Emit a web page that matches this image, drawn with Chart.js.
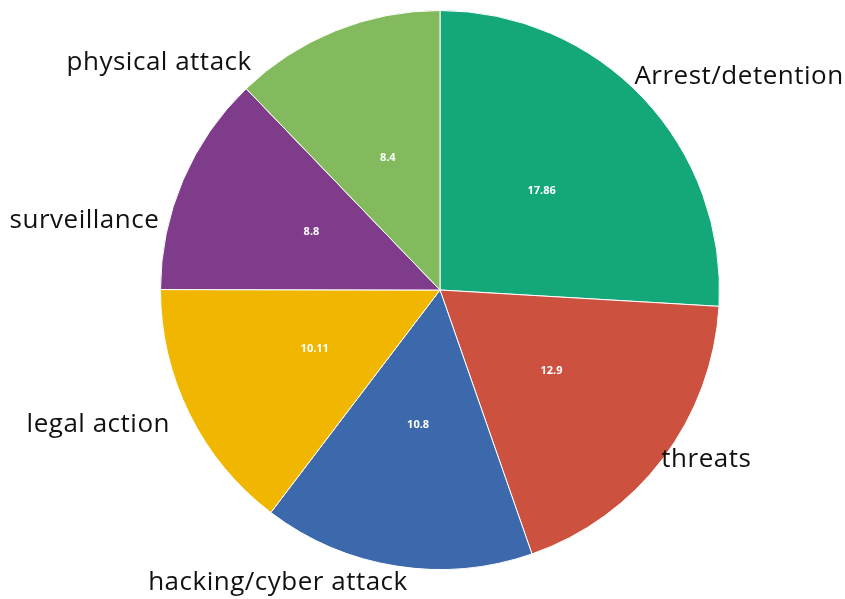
<!DOCTYPE html>
<html>
<head>
<meta charset="utf-8">
<script src="https://cdn.jsdelivr.net/npm/chart.js@4"></script>
<style>
  html, body { margin: 0; padding: 0; background: #fff; }
  #wrap { width: 845px; height: 599px; }
</style>
</head>
<body>
<div id="wrap"><canvas id="pieChart"></canvas></div>
<script>
// chart data
const categories = ["Arrest/detention", "threats", "hacking/cyber attack", "legal action", "surveillance", "physical attack"];
const values = [17.86, 12.9, 10.8, 10.11, 8.8, 8.4];
const colours = ["#14a77a", "#cc513f", "#3b69ab", "#f1b700", "#7f3c8b", "#83ba5d"];

// where each category name sits: [angle in degrees from 3 o'clock, distance in radii]
const namePlacement = [[-35.5, 1.314], [32.5, 1.13], [119, 1.196], [158.5, 1.314], [191, 1.296], [219, 1.293]];

const ctx = document.getElementById('pieChart').getContext('2d');

// draws values inside the slices and names around the pie
const pieLabels = {
  id: 'pieLabels',
  afterDatasetsDraw(chart) {
    const c = chart.ctx;
    const arcs = chart.getDatasetMeta(0).data;
    c.save();
    arcs.forEach(function(arc, i) {
      const mid = (arc.startAngle + arc.endAngle) / 2;
      const r = arc.outerRadius;
      // value
      c.fillStyle = "#ffffff";
      c.font = "bold 11px 'Open Sans'";
      c.textAlign = "center";
      c.textBaseline = "middle";
      c.fillText(values[i], arc.x + Math.cos(mid) * r * 0.5, arc.y + Math.sin(mid) * r * 0.5 - 3);
      // category name
      const a = namePlacement[i][0] * Math.PI / 180;
      const d = namePlacement[i][1] * r;
      c.fillStyle = "#111111";
      c.font = "26px 'Open Sans'";
      c.letterSpacing = "0.5px";
      c.fillText(categories[i], arc.x + Math.cos(a) * d, arc.y + Math.sin(a) * d);
      c.letterSpacing = "0px";
    });
    c.restore();
  }
};

const pieChart = new Chart(ctx, {
  type: 'pie',
  data: {
    labels: categories,
    datasets: [{
      data: values,
      backgroundColor: colours,
      borderColor: "#ffffff",
      borderWidth: 1
    }]
  },
  options: {
    responsive: true,
    maintainAspectRatio: false,
    animation: false,
    layout: {
      padding: { left: 160, right: 125, top: 9, bottom: 28 }
    },
    plugins: {
      legend: { display: false },
      tooltip: { enabled: false }
    }
  },
  plugins: [pieLabels]
});
</script>
</body>
</html>
